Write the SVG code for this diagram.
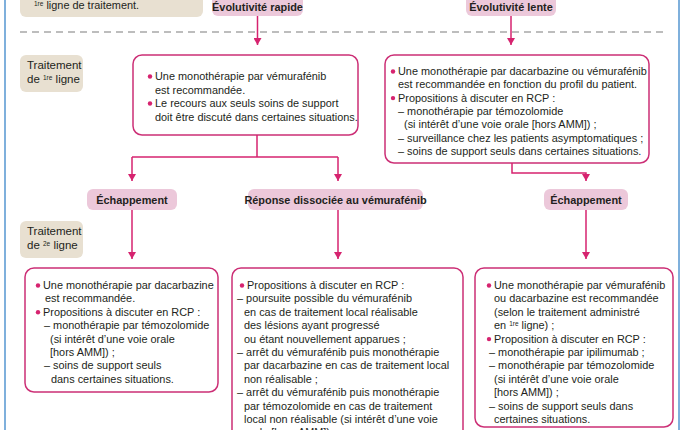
<svg xmlns="http://www.w3.org/2000/svg" width="686" height="430" viewBox="0 0 686 430">
<defs>
<style>
text{font-family:"Liberation Sans",Arial,sans-serif;font-size:10.9px;fill:#231f20}
.b{font-weight:bold;text-anchor:middle}
.lbl{font-size:11.5px}
.box{fill:#fff;stroke:#cc2f76;stroke-width:1.5}
.pill{fill:#ecc8da}
.beige{fill:#e8e0d1}
.con{fill:none;stroke:#d6236f;stroke-width:1.5}
.dot{fill:#d6236f}
.sup{font-size:6.5px}
</style>
<marker id="ad" viewBox="0 0 8 8" refX="4" refY="7" markerWidth="8" markerHeight="8" markerUnits="userSpaceOnUse" orient="0">
<path d="M0,0 L8,0 L4,7 Z" fill="#d6236f"/>
</marker>
</defs>
<rect width="686" height="430" fill="#fff"/>
<line x1="5" y1="0" x2="5" y2="430" stroke="#7fb0dc" stroke-width="2"/>
<line x1="679" y1="0" x2="679" y2="430" stroke="#7fb0dc" stroke-width="2"/>
<line x1="20" y1="32" x2="666" y2="32" stroke="#a8a8a8" stroke-width="1.3" stroke-dasharray="7,5"/>

<g id="header-note">
<rect class="beige" x="20" y="-10" width="183" height="27" rx="6"/>
<text x="34" y="9"><tspan class="sup" dy="-3">1re</tspan><tspan dy="3"> ligne de traitement.</tspan></text>
</g>
<g id="evol-rapide">
<rect class="pill" x="212" y="-6" width="91" height="22" rx="6"/>
<text class="b" x="257.5" y="11">Évolutivité rapide</text>
</g>
<g id="evol-lente">
<rect class="pill" x="466" y="-6" width="90" height="22" rx="6"/>
<text class="b" x="511" y="11">Évolutivité lente</text>
</g>

<g id="label-1re">
<rect class="beige" x="20" y="55" width="63" height="37" rx="6"/>
<text class="lbl" x="27" y="69">Traitement</text>
<text class="lbl" x="27" y="83">de <tspan class="sup" dy="-3">1re</tspan><tspan dy="3"> ligne</tspan></text>
</g>
<g id="label-2e">
<rect class="beige" x="20" y="221" width="63" height="37" rx="6"/>
<text class="lbl" x="27" y="235">Traitement</text>
<text class="lbl" x="27" y="249">de <tspan class="sup" dy="-3">2e</tspan><tspan dy="3"> ligne</tspan></text>
</g>

<g id="l1-rapide">
<rect class="box" x="133" y="55" width="225" height="80" rx="9"/>
<circle class="dot" cx="150" cy="76.5" r="2.2"/>
<text x="155" y="80">Une monothérapie par vémurafénib</text>
<text x="155" y="93.5">est recommandée.</text>
<circle class="dot" cx="150" cy="103.5" r="2.2"/>
<text x="155" y="107">Le recours aux seuls soins de support</text>
<text x="155" y="120.5">doit être discuté dans certaines situations.</text>
</g>
<g id="l1-lente">
<rect class="box" x="385" y="55" width="264" height="108" rx="9"/>
<circle class="dot" cx="393" cy="71.5" r="2.2"/>
<text x="398" y="75">Une monothérapie par dacarbazine ou vémurafénib</text>
<text x="398" y="88.3">est recommandée en fonction du profil du patient.</text>
<circle class="dot" cx="393" cy="98.1" r="2.2"/>
<text x="398" y="101.6">Propositions à discuter en RCP :</text>
<text x="398" y="115">– monothérapie par témozolomide</text>
<text x="404" y="128.3">(si intérêt d’une voie orale [hors AMM]) ;</text>
<text x="398" y="141.6">– surveillance chez les patients asymptomatiques ;</text>
<text x="398" y="155">– soins de support seuls dans certaines situations.</text>
</g>

<g id="echap-1">
<rect class="pill" x="87" y="189" width="90" height="21" rx="6"/>
<text class="b" x="132" y="203.5">Échappement</text>
</g>
<g id="reponse-dissociee">
<rect class="pill" x="248" y="189" width="175" height="21" rx="6"/>
<text class="b" x="335.5" y="203.5">Réponse dissociée au vémurafénib</text>
</g>
<g id="echap-2">
<rect class="pill" x="544" y="189" width="84" height="21" rx="6"/>
<text class="b" x="586" y="203.5">Échappement</text>
</g>

<g id="l2-echap-1">
<rect class="box" x="25" y="268" width="193" height="124" rx="9"/>
<circle class="dot" cx="38" cy="285.5" r="2.2"/>
<text x="43" y="289">Une monothérapie par dacarbazine</text>
<text x="45" y="302.4">est recommandée.</text>
<circle class="dot" cx="38" cy="312.3" r="2.2"/>
<text x="43" y="315.8">Propositions à discuter en RCP :</text>
<text x="44" y="329.2">– monothérapie par témozolomide</text>
<text x="50" y="342.6">(si intérêt d’une voie orale</text>
<text x="50" y="356">[hors AMM]) ;</text>
<text x="44" y="369.4">– soins de support seuls</text>
<text x="51" y="382.8">dans certaines situations.</text>
</g>
<g id="l2-reponse">
<rect class="box" x="232" y="268" width="231" height="180" rx="9"/>
<circle class="dot" cx="242" cy="285.5" r="2.2"/>
<text x="247" y="289">Propositions à discuter en RCP :</text>
<text x="237" y="302.4">– poursuite possible du vémurafénib</text>
<text x="244" y="315.8">en cas de traitement local réalisable</text>
<text x="244" y="329.2">des lésions ayant progressé</text>
<text x="244" y="342.6">ou étant nouvellement apparues ;</text>
<text x="237" y="356">– arrêt du vémurafénib puis monothérapie</text>
<text x="244" y="369.4">par dacarbazine en cas de traitement local</text>
<text x="244" y="382.8">non réalisable ;</text>
<text x="237" y="396.2">– arrêt du vémurafénib puis monothérapie</text>
<text x="244" y="409.6">par témozolomide en cas de traitement</text>
<text x="244" y="423">local non réalisable (si intérêt d’une voie</text>
<text x="244" y="436.4">orale [hors AMM]) ;</text>
</g>
<g id="l2-echap-2">
<rect class="box" x="475" y="268" width="198" height="159" rx="9"/>
<circle class="dot" cx="489" cy="285.5" r="2.2"/>
<text x="494" y="289">Une monothérapie par vémurafénib</text>
<text x="494" y="302.4">ou dacarbazine est recommandée</text>
<text x="494" y="315.8">(selon le traitement administré</text>
<text x="494" y="329.2">en <tspan class="sup" dy="-3">1re</tspan><tspan dy="3"> ligne) ;</tspan></text>
<circle class="dot" cx="489" cy="339.1" r="2.2"/>
<text x="494" y="342.6">Proposition à discuter en RCP :</text>
<text x="489" y="356">– monothérapie par ipilimumab ;</text>
<text x="489" y="369.4">– monothérapie par témozolomide</text>
<text x="494" y="382.8">(si intérêt d’une voie orale</text>
<text x="494" y="396.2">[hors AMM]) ;</text>
<text x="489" y="409.6">– soins de support seuls dans</text>
<text x="494" y="423">certaines situations.</text>
</g>

<g id="connectors">
<path class="con" d="M257.5,16 V45" marker-end="url(#ad)"/>
<path class="con" d="M511,16 V45" marker-end="url(#ad)"/>
<path class="con" d="M257,135 V157"/>
<path class="con" d="M132,157 H338"/>
<path class="con" d="M132,157 V181" marker-end="url(#ad)"/>
<path class="con" d="M338,157 V181" marker-end="url(#ad)"/>
<path class="con" d="M512,163 V173 H586 V181" marker-end="url(#ad)"/>
<path class="con" d="M132,210 V259" marker-end="url(#ad)"/>
<path class="con" d="M338,210 V259" marker-end="url(#ad)"/>
<path class="con" d="M586,210 V259" marker-end="url(#ad)"/>
</g>
</svg>
